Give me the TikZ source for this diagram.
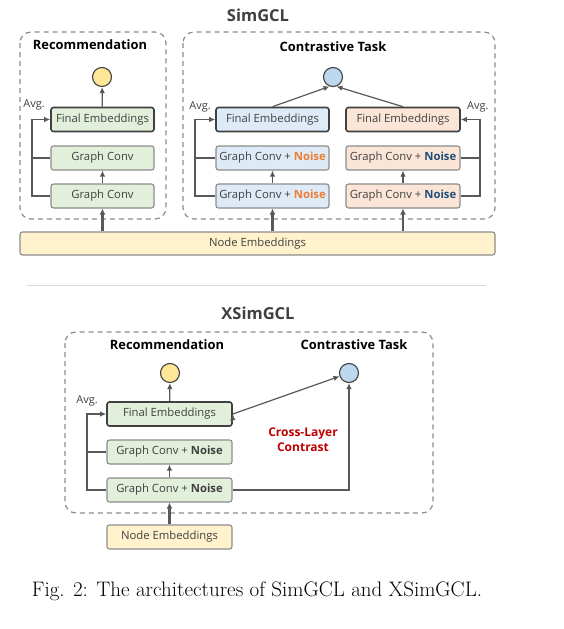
\documentclass[tikz,border=0pt]{standalone}
\usepackage{fontspec}
\newfontfamily\opensans{Open Sans}
\usetikzlibrary{calc,arrows.meta}

\definecolor{boxline}{HTML}{8C8C8C}
\definecolor{darkline}{HTML}{404040}
\definecolor{wire}{HTML}{595959}
\definecolor{txt}{HTML}{404040}
\definecolor{greenfill}{HTML}{E2EFDA}
\definecolor{bluefill}{HTML}{DEEBF7}
\definecolor{peachfill}{HTML}{FBE5D6}
\definecolor{yellowfill}{HTML}{FFF2CC}
\definecolor{ycirc}{HTML}{FFE699}
\definecolor{bcirc}{HTML}{BDD7EE}
\definecolor{noiseor}{HTML}{ED7D31}
\definecolor{noisebl}{HTML}{1F4E79}
\definecolor{crossred}{HTML}{C00000}

\tikzset{
  box/.style={draw=boxline, line width=1.1pt, rounded corners=2.5pt, minimum height=24pt,
    inner sep=1pt, text=txt, font=\opensans\fontsize{11.3}{13}\selectfont},
  finalbox/.style={box, draw=darkline, line width=1.6pt},
  outc/.style={circle, draw=darkline, line width=1.1pt, minimum size=19pt, inner sep=0pt},
  heading/.style={font=\opensans\bfseries\fontsize{12.9}{15}\selectfont},
  bigtitle/.style={font=\opensans\bfseries\fontsize{16.5}{18}\selectfont, text=darkline},
  avg/.style={font=\opensans\fontsize{11}{13}\selectfont, text=txt},
  group/.style={draw=boxline, line width=1.2pt, dash pattern=on 5pt off 4pt, rounded corners=11pt},
  arr/.style={draw=wire, line width=1.2pt, -{Latex[length=6pt,width=5.5pt]}},
  wireline/.style={draw=wire, line width=1.2pt},
  thickarr/.style={draw=wire, line width=2.4pt, -{Latex[length=6pt,width=6pt]}},
}

\begin{document}
\begin{tikzpicture}[x=1pt,y=-1pt]
        \useasboundingbox[fill=white] (0,0) rectangle (564,629);

        % SimGCL
        \node[bigtitle] (simgcl) at (258,15) {SimGCL};
        \draw[group] (20,32) rectangle (166,219);
        \draw[group] (183,32) rectangle (495,219);
        \node[heading] (rechead) at (90,45) {Recommendation};
        \node[heading] (conhead) at (333,47) {Contrastive Task};

        \node[outc, fill=ycirc] (ry) at (102,77) {};
        \node[finalbox, fill=greenfill, minimum width=103pt] (rfe) at (102.5,119.5) {Final Embeddings};
        \node[box, fill=greenfill, minimum width=103pt] (rg1) at (102.5,158) {Graph Conv};
        \node[box, fill=greenfill, minimum width=103pt] (rg2) at (102.5,196) {Graph Conv};

        \node[outc, fill=bcirc] (cb) at (333,77) {};
        \node[finalbox, fill=bluefill, minimum width=113pt] (lfe) at (272.5,119.5) {Final Embeddings};
        \node[box, fill=bluefill, minimum width=113pt] (lg1) at (272.5,158) {Graph Conv + \textcolor{noiseor}{\bfseries Noise}};
        \node[box, fill=bluefill, minimum width=113pt] (lg2) at (272.5,196) {Graph Conv + \textcolor{noiseor}{\bfseries Noise}};
        \node[finalbox, fill=peachfill, minimum width=114pt] (pfe) at (403,119.5) {Final Embeddings};
        \node[box, fill=peachfill, minimum width=114pt] (pg1) at (403,158) {Graph Conv + \textcolor{noisebl}{\bfseries Noise}};
        \node[box, fill=peachfill, minimum width=114pt] (pg2) at (403,196) {Graph Conv + \textcolor{noisebl}{\bfseries Noise}};

        \node[box, fill=yellowfill, minimum width=475pt, minimum height=23pt] (ne) at (257.5,243.5) {Node Embeddings};

        \coordinate (rl) at (32,0);
        \coordinate (ll) at (195,0);
        \coordinate (pl) at (480,0);
        \node[avg] at ($(rfe.west)+(-16,-15)$) {Avg.};
        \node[avg] at ($(lfe.west)+(-15,-13)$) {Avg.};
        \node[avg] at ($(pfe.east)+(17,-13)$) {Avg.};

        \draw[arr] (rg2.west) -- (rg2.west -| rl) |- (rfe.west);
        \draw[wireline] (rg1.west) -- (rg1.west -| rl);
        \draw[arr] (lg2.west) -- (lg2.west -| ll) |- (lfe.west);
        \draw[wireline] (lg1.west) -- (lg1.west -| ll);
        \draw[arr] (pg2.east) -- (pg2.east -| pl) |- (pfe.east);
        \draw[wireline] (pg1.east) -- (pg1.east -| pl);

        \path[arr] (rg2) edge (rg1) (rfe) edge (ry)
                   (lg2) edge (lg1) (pg2) edge (pg1);
        \draw[arr] (lfe.north) -- (cb.250);
        \draw[arr] (pfe.north) -- (cb.290);
        \draw[thickarr] (ne.north -| rg2) -- (rg2.south);
        \draw[thickarr] (ne.north -| lg2) -- (lg2.south);
        \draw[thickarr] (ne.north -| pg2) -- (pg2.south);

        \draw[draw=black!15, line width=0.8pt] (27,285) -- (486,285);

        % XSimGCL
        \node[bigtitle] (xsimgcl) at (258,313) {XSimGCL};
        \draw[group] (65,332) rectangle (433,513);
        \node[heading] (xrechead) at (167,345) {Recommendation};
        \node[heading] (xconhead) at (354,345) {Contrastive Task};

        \node[outc, fill=ycirc] (xy) at (170,373) {};
        \node[outc, fill=bcirc] (xb) at (349,373) {};
        \node[finalbox, fill=greenfill, minimum width=125pt] (xfe) at (169.5,414) {Final Embeddings};
        \node[box, fill=greenfill, minimum width=125pt] (xg1) at (169.5,452) {Graph Conv + \textcolor{darkline}{\bfseries Noise}};
        \node[box, fill=greenfill, minimum width=125pt] (xg2) at (169.5,490) {Graph Conv + \textcolor{darkline}{\bfseries Noise}};
        \node[box, fill=yellowfill, minimum width=125pt] (xne) at (169.5,537) {Node Embeddings};
        \node[font=\opensans\bfseries\fontsize{12}{15}\selectfont, text=crossred, align=center] (cross) at (303,440) {Cross-Layer\\Contrast};

        \coordinate (xl) at (87,0);
        \node[avg] at ($(xfe.west)+(-19,-13)$) {Avg.};
        \draw[arr] (xg2.west) -- (xg2.west -| xl) |- (xfe.west);
        \draw[wireline] (xg1.west) -- (xg1.west -| xl);
        \path[arr] (xg2) edge (xg1) (xfe) edge (xy) (xfe.east) edge (xb);
        \draw[arr] (xg2.east) -| (xb.south);
        \draw[thickarr] (xne) -- (xg2);

        \node[font=\fontsize{21}{25}\selectfont] (caption) at (257,591) {Fig. 2: The architectures of SimGCL and XSimGCL.};
      \end{tikzpicture}
\end{document}
